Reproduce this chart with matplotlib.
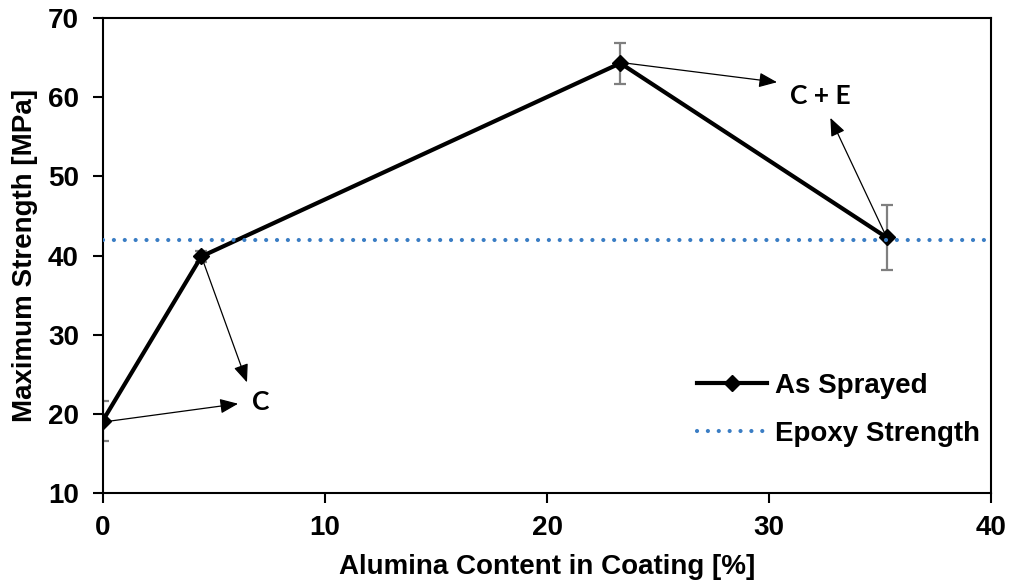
import matplotlib
matplotlib.use("Agg")
import matplotlib.pyplot as plt

# alumina content [%] vs maximum strength [MPa]
alumina = [0, 4.45, 23.3, 35.28]
strength = [19.1, 39.9, 64.3, 42.3]
strength_err = [2.55, 0.7, 2.6, 4.05]
epoxy_strength = 42.0

plt.rcParams['font.family'] = ['Liberation Sans', 'DejaVu Sans']
plt.rcParams['font.weight'] = 'bold'

fig = plt.figure(figsize=(10.11, 5.83), dpi=100)
ax = fig.add_axes([0.1014, 0.154, 0.8793, 0.815])

ax.errorbar(alumina, strength, yerr=strength_err, fmt='none', ecolor='#7f7f7f',
            elinewidth=1.6, capsize=4.5, capthick=1.6, zorder=2)
ax.plot(alumina, strength, color='black', lw=3, marker='D', markersize=8,
        label='As Sprayed', zorder=3)
ax.axhline(epoxy_strength, color='#3a7dc4', lw=3, linestyle=(0, (0.01, 2.6)),
           dash_capstyle='round', label='Epoxy Strength', zorder=4)

# failure-mode callouts
arrow = dict(arrowstyle='-|>,head_length=1.1,head_width=0.45', color='black',
             lw=0.9, shrinkA=0, shrinkB=0, mutation_scale=10)
callouts = [((0.05, 19.0), (6.1, 21.3)),
            ((4.45, 39.9), (6.5, 24.0)),
            ((23.3, 64.4), (30.35, 61.9)),
            ((35.2, 42.8), (32.75, 57.4))]
for start, tip in callouts:
    ax.annotate('', xy=tip, xytext=start, arrowprops=arrow, zorder=5)

ax.text(7.1, 21.5, 'C', ha='center', va='center', family=['Lato', 'DejaVu Sans'],
        fontweight='bold', fontsize=19)
ax.text(32.3, 60.1, 'C + E', ha='center', va='center', family=['Lato', 'DejaVu Sans'],
        fontweight='bold', fontsize=19)

ax.set_xlim(0, 40)
ax.set_ylim(10, 70)
ax.set_xticks(range(0, 41, 10))
ax.set_yticks(range(10, 71, 10))
ax.tick_params(direction='out', length=7, width=1.5, labelsize=20)
ax.tick_params(axis='x', pad=9)
ax.tick_params(axis='y', pad=10)
for s in ax.spines.values():
    s.set_linewidth(1.5)

ax.set_xlabel('Alumina Content in Coating [%]', fontsize=20, fontweight='bold', labelpad=9)
ax.set_ylabel('Maximum Strength [MPa]', fontsize=20, fontweight='bold', labelpad=7)

ax.legend(loc='center left', bbox_to_anchor=(0.669, 0.175), frameon=False,
          fontsize=20, handlelength=2.5, handletextpad=0.29, labelspacing=0.8,
          borderpad=0, borderaxespad=0)

fig.savefig('out.png', dpi=100)
